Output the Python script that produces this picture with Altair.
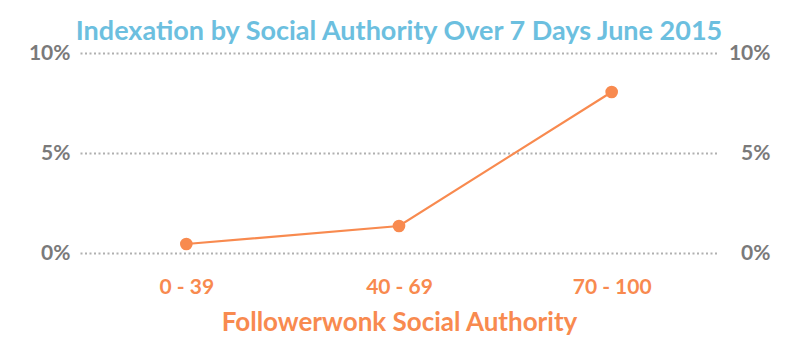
import altair as alt
import pandas as pd

categories = ["0 - 39", "40 - 69", "70 - 100"]
values = [0.45, 1.35, 8.05]

df = pd.DataFrame({"cat": categories, "val": values})

ORANGE = "#f88a4f"
GRAY = "#7a7a7a"
FONT = "Lato"

x_enc = alt.X("cat:N", sort=categories,
              scale=alt.Scale(paddingInner=0, paddingOuter=0),
              axis=alt.Axis(title="Followerwonk Social Authority", labelAngle=0,
                            labelColor=ORANGE, labelFontSize=21, labelFontWeight="bold",
                            labelFont=FONT, labelPadding=23,
                            ticks=False, domain=False,
                            titleColor=ORANGE, titleFontSize=26, titleFontWeight="bold",
                            titleFont=FONT, titlePadding=12, grid=False))

yscale = alt.Scale(domain=[0, 10])

left = alt.Chart(df).mark_line(color=ORANGE, strokeWidth=2.2).encode(
    x=x_enc,
    y=alt.Y("val:Q", scale=yscale,
            axis=alt.Axis(orient="left", values=[0, 5, 10], labelExpr="datum.value + '%'",
                          title=None, ticks=False, domain=False, labelColor=GRAY,
                          labelFontSize=21, labelFontWeight="bold", labelFont=FONT,
                          labelPadding=10, grid=True, gridColor="#b0b0b0",
                          gridDash=[2, 2.5], gridWidth=2)),
)

right = alt.Chart(df).mark_circle(color=ORANGE, size=160, opacity=1).encode(
    x=x_enc,
    y=alt.Y("val:Q", scale=yscale,
            axis=alt.Axis(orient="right", values=[0, 5, 10], labelExpr="datum.value + '%'",
                          title=None, ticks=False, domain=False, labelColor=GRAY,
                          labelFontSize=21, labelFontWeight="bold", labelFont=FONT,
                          labelAlign="right", labelPadding=52, grid=False)),
)

chart = alt.layer(left, right).resolve_axis(y="independent").properties(
    width=638, height=200,
    background="white",
    autosize=alt.AutoSizeParams(type="none"),
    padding={"left": 80, "top": 53, "right": 82, "bottom": 101},
    title=alt.TitleParams("Indexation by Social Authority Over 7 Days June 2015",
                          color="#6cbfdf", fontSize=27, fontWeight="bold", font=FONT,
                          anchor="middle", offset=-4),
).configure_view(stroke=None)

chart.save("out.html", embed_options={"renderer": "svg", "actions": False})
